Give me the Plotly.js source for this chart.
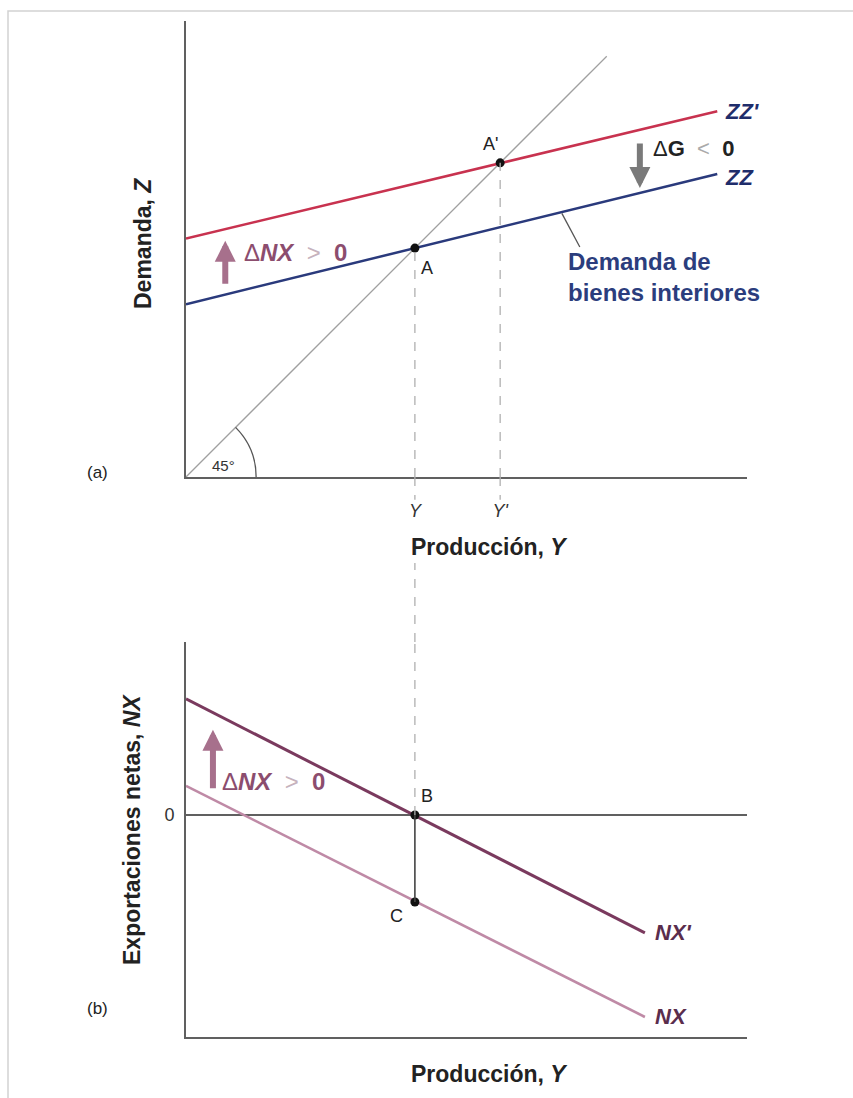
<!DOCTYPE html>
<html><head><meta charset="utf-8">
<script src="https://cdn.plot.ly/plotly-3.0.1.min.js"></script>
<style>html,body{margin:0;padding:0;background:#fff;}#chart{width:853px;height:1098px;}</style>
</head><body><div id="chart"></div>
<script>
// ---------- Panel (a): demand for domestic goods ----------
const lineX      = [0, 9.47];          // Y over which ZZ / ZZ' are drawn
const zzY        = [3.08, 5.40];       // ZZ
const zzPrimeY   = [4.25, 6.52];       // ZZ'
const diagX      = [0, 7.5];           // 45° line (Z = Y)
const pointA     = [4.08, 4.08];
const pointAp    = [5.6, 5.6];
const tickValsA  = [4.08, 5.6];
const tickTextA  = ['<i>Y</i>', "<i>Y'</i>"];

// ---------- Panel (b): net exports ----------
const nxX        = [0, 8.18];
const nxPrimeY   = [2.07, -2.10];      // NX'
const nxY        = [0.52, -3.60];      // NX
const pointB     = [4.08, 0];
const pointC     = [4.08, -1.55];
const tickValsB  = [0];
const tickTextB  = ['0'];

const W = 853, H = 1098;
const xDom  = [186 / W, 747 / W];
const yDomA = [1 - 477 / H, 1 - 21 / H];
const yDomB = [1 - 1037 / H, 1 - 642 / H];
const rangeXA = [0, 10], rangeYA = [0, 8.128];
const rangeYB = [-3.957, 3.084];

const FONT = 'Liberation Sans, Arial, sans-serif';
const axisCol = '#606060';

const traces = [
  {x: diagX, y: diagX, mode: 'lines', line: {color: '#a0a0a0', width: 1.3}, xaxis: 'x', yaxis: 'y', hoverinfo: 'skip'},
  {x: lineX, y: zzY, mode: 'lines', line: {color: '#2a3a7c', width: 2.5}, xaxis: 'x', yaxis: 'y', name: 'ZZ'},
  {x: lineX, y: zzPrimeY, mode: 'lines', line: {color: '#c8324f', width: 2.5}, xaxis: 'x', yaxis: 'y', name: "ZZ'"},
  {x: [pointA[0], pointAp[0]], y: [pointA[1], pointAp[1]], mode: 'markers', marker: {color: '#111', size: 9}, xaxis: 'x', yaxis: 'y'},
  {x: nxX, y: nxPrimeY, mode: 'lines', line: {color: '#7a3a5e', width: 3}, xaxis: 'x2', yaxis: 'y2', name: "NX'"},
  {x: nxX, y: nxY, mode: 'lines', line: {color: '#bf8aa6', width: 2.6}, xaxis: 'x2', yaxis: 'y2', name: 'NX'},
  {x: [pointB[0], pointC[0]], y: [pointB[1], pointC[1]], mode: 'markers', marker: {color: '#111', size: 9}, xaxis: 'x2', yaxis: 'y2'}
];

const dash = {color: '#b0b0b0', width: 1.3, dash: 'dash'};
// cubic approximation of the 45° angle arc, radius r
const r = 1.25, k = 0.2652, c45 = Math.SQRT1_2;
const arcPath = `M ${r},0 C ${r},${k*r} ${r*(c45+k*c45)},${r*(c45-k*c45)} ${r*c45},${r*c45}`;

const shapes = [
  {type: 'line', xref: 'x', yref: 'y', x0: pointA[0], x1: pointA[0], y0: 0, y1: pointA[1], line: dash},
  {type: 'line', xref: 'x', yref: 'y', x0: pointAp[0], x1: pointAp[0], y0: 0, y1: pointAp[1], line: dash},
  {type: 'line', xref: 'x', yref: 'y domain', x0: pointA[0], x1: pointA[0], y0: 0, y1: -0.05, line: dash},
  {type: 'line', xref: 'x', yref: 'y domain', x0: pointAp[0], x1: pointAp[0], y0: 0, y1: -0.05, line: dash},
  {type: 'line', xref: 'x2', yref: 'y2 domain', x0: pointB[0], x1: pointB[0], y0: 1, y1: 1.2, line: dash},
  {type: 'line', xref: 'x2', yref: 'y2', x0: pointB[0], x1: pointB[0], y0: pointB[1], y1: rangeYB[1], line: dash},
  {type: 'line', xref: 'x2', yref: 'y2', x0: pointB[0], x1: pointC[0], y0: pointB[1], y1: pointC[1], line: {color: '#444', width: 1.6}},
  {type: 'line', xref: 'x', yref: 'y', x0: 6.70, x1: 7.02, y0: 4.70, y1: 4.10, line: {color: '#555', width: 1.3}},
  {type: 'path', xref: 'x', yref: 'y', path: arcPath, line: {color: '#555', width: 1.3}},
  {type: 'rect', xref: 'paper', yref: 'paper', x0: 8 / W, x1: 1.02, y0: -0.02, y1: 1 - 11 / H, line: {color: '#d2d2d2', width: 1.5}}
];

const tf = (size, color, extra) => Object.assign({family: FONT, size: size, color: color}, extra || {});
const mauve = '#8c4d6e';
const dnx = `<span style="color:${mauve}">Δ<b><i>NX</i></b></span><span style="color:#c6b2bd">&nbsp;&nbsp;&gt;&nbsp;&nbsp;</span><b><span style="color:${mauve}">0</span></b>`;
const pc = (px, py) => ({xref: 'paper', yref: 'paper', x: px / W, y: 1 - py / H, xanchor: 'center', yanchor: 'middle', showarrow: false});

const annotations = [
  // panel a labels
  {xref: 'x', yref: 'y', x: pointA[0], y: pointA[1], text: 'A', showarrow: false, xshift: 12, yshift: -20, font: tf(18, '#222')},
  {xref: 'x', yref: 'y', x: pointAp[0], y: pointAp[1], text: "A'", showarrow: false, xshift: -10, yshift: 19, font: tf(18, '#222')},
  {xref: 'x', yref: 'y', x: lineX[1], y: zzPrimeY[1], text: "<b><i>ZZ'</i></b>", showarrow: false, xanchor: 'left', xshift: 6, font: tf(22, '#1f2d6b')},
  {xref: 'x', yref: 'y', x: lineX[1], y: zzY[1], text: '<b><i>ZZ</i></b>', showarrow: false, xanchor: 'left', xshift: 6, yshift: -3, font: tf(22, '#1f2d6b')},
  {xref: 'x', yref: 'y', x: 8.09, y: 5.15, ax: 8.09, ay: 5.97, axref: 'x', ayref: 'y', text: '', showarrow: true, arrowhead: 2, arrowsize: 0.7, arrowwidth: 6, arrowcolor: '#7a7a7a', standoff: 0},
  {xref: 'x', yref: 'y', x: 8.28, y: 5.86, text: 'Δ<b>G</b><span style="color:#aaa">&nbsp;&nbsp;&lt;&nbsp;&nbsp;</span><b>0</b>', showarrow: false, xanchor: 'left', font: tf(22, '#222')},
  {xref: 'x', yref: 'y', x: 0.70, y: 4.21, ax: 0.70, ay: 3.42, axref: 'x', ayref: 'y', text: '', showarrow: true, arrowhead: 2, arrowsize: 0.7, arrowwidth: 6, arrowcolor: '#a7708c', standoff: 0},
  {xref: 'x', yref: 'y', x: 1.0, y: 4.01, text: dnx, showarrow: false, xanchor: 'left', font: tf(24, mauve)},
  {xref: 'x', yref: 'y', x: 6.78, y: 3.56, text: '<b>Demanda de<br>bienes interiores</b>', showarrow: false, xanchor: 'left', align: 'left', font: tf(24, '#2b3d7d')},
  {xref: 'x', yref: 'y', x: 0.66, y: 0.21, text: '45°', showarrow: false, font: tf(15, '#333')},
  Object.assign(pc(97, 472), {text: '(a)', font: tf(17, '#222')}),
  Object.assign(pc(143, 244), {text: '<b>Demanda, <i>Z</i></b>', textangle: -90, font: tf(23, '#222')}),
  Object.assign(pc(489, 547), {text: '<b>Producción, <i>Y</i></b>', font: tf(23, '#222')}),
  // panel b labels
  {xref: 'x2', yref: 'y2', x: pointB[0], y: pointB[1], text: 'B', showarrow: false, xshift: 12, yshift: 19, font: tf(18, '#222')},
  {xref: 'x2', yref: 'y2', x: pointC[0], y: pointC[1], text: 'C', showarrow: false, xshift: -18, yshift: -14, font: tf(18, '#222')},
  {xref: 'x2', yref: 'y2', x: nxX[1], y: nxPrimeY[1], text: "<b><i>NX'</i></b>", showarrow: false, xanchor: 'left', xshift: 8, font: tf(22, '#5a2d4d')},
  {xref: 'x2', yref: 'y2', x: nxX[1], y: nxY[1], text: '<b><i>NX</i></b>', showarrow: false, xanchor: 'left', xshift: 8, font: tf(22, '#5a2d4d')},
  {xref: 'x2', yref: 'y2', x: 0.48, y: 1.52, ax: 0.48, ay: 0.45, axref: 'x2', ayref: 'y2', text: '', showarrow: true, arrowhead: 2, arrowsize: 0.7, arrowwidth: 6, arrowcolor: '#a7708c', standoff: 0},
  {xref: 'x2', yref: 'y2', x: 0.60, y: 0.59, text: dnx, showarrow: false, xanchor: 'left', font: tf(24, mauve)},
  Object.assign(pc(97, 1008), {text: '(b)', font: tf(17, '#222')}),
  Object.assign(pc(132, 830), {text: '<b>Exportaciones netas, <i>NX</i></b>', textangle: -90, font: tf(23, '#222')}),
  Object.assign(pc(489, 1074), {text: '<b>Producción, <i>Y</i></b>', font: tf(23, '#222')})
];

const baseAxis = {showgrid: false, zeroline: false, showline: true, linecolor: axisCol, linewidth: 2, ticks: '', fixedrange: true};

const layout = {
  width: W, height: H,
  margin: {l: 0, r: 0, t: 0, b: 0},
  paper_bgcolor: '#fff', plot_bgcolor: '#fff',
  showlegend: false,
  xaxis: Object.assign({}, baseAxis, {domain: xDom, range: rangeXA, anchor: 'y', tickvals: tickValsA, ticktext: tickTextA, ticklabelstandoff: 16, tickfont: tf(18, '#333')}),
  yaxis: Object.assign({}, baseAxis, {domain: yDomA, range: rangeYA, anchor: 'x', showticklabels: false}),
  xaxis2: Object.assign({}, baseAxis, {domain: xDom, range: rangeXA, anchor: 'y2', showticklabels: false}),
  yaxis2: Object.assign({}, baseAxis, {domain: yDomB, range: rangeYB, anchor: 'x2', tickvals: tickValsB, ticktext: tickTextB, tickfont: tf(18, '#333'), ticklabelstandoff: 6, zeroline: true, zerolinecolor: axisCol, zerolinewidth: 1.5}),
  shapes: shapes,
  annotations: annotations
};

Plotly.newPlot('chart', traces, layout, {displayModeBar: false, staticPlot: true});
</script>
</body></html>
